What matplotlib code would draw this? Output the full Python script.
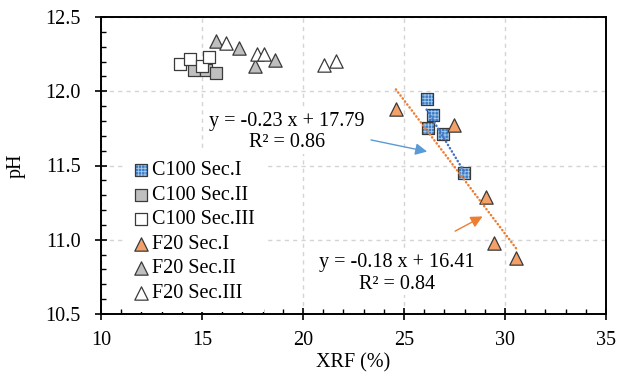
import numpy as np
import matplotlib
matplotlib.use('Agg')
import matplotlib.pyplot as plt
from matplotlib.legend_handler import HandlerTuple
from matplotlib.ticker import MultipleLocator, FormatStrFormatter

# data
c100_1_x = [26.12, 26.44, 26.17, 26.93, 27.97]
c100_1_y = [11.95, 11.84, 11.75, 11.71, 11.45]
c100_2_x = [14.60, 15.20, 15.69]
c100_2_y = [12.14, 12.145, 12.125]
c100_3_x = [13.92, 14.40, 15.00, 15.34]
c100_3_y = [12.185, 12.22, 12.17, 12.23]
f20_1_x = [24.60, 27.46, 29.07, 29.45, 30.55]
f20_1_y = [11.88, 11.77, 11.29, 10.98, 10.88]
f20_2_x = [15.69, 16.85, 18.60, 17.62]
f20_2_y = [12.34, 12.29, 12.21, 12.17]
f20_3_x = [16.17, 17.70, 18.07, 21.03, 21.64]
f20_3_y = [12.325, 12.253, 12.25, 12.174, 12.204]

labels = ['C100 Sec.I', 'C100 Sec.II', 'C100 Sec.III',
          'F20 Sec.I', 'F20 Sec.II', 'F20 Sec.III']
eq_c100 = 'y = -0.23 x + 17.79\nR\u00b2 = 0.86'
eq_f20 = 'y = -0.18 x + 16.41\nR\u00b2 = 0.84'

plt.rcParams.update({
    'font.family': ['Liberation Serif', 'DejaVu Serif'],
    'font.size': 14.5,
    'hatch.linewidth': 0.6,
    'axes.linewidth': 1.4,
})

fig = plt.figure(figsize=(6.44, 3.82), dpi=100)
ax = fig.add_axes([101 / 644, 1 - 314 / 382, 505 / 644, 297 / 382])

edge = '#3a3a3a'
ms_sq = 76
ms_tri = 92

# C100 Sec.I : blue with light grid pattern
sc1a = ax.scatter(c100_1_x, c100_1_y, marker='s', s=ms_sq, facecolor='#3b7dc4',
                  edgecolor='#a9cbee', linewidth=0, hatch='+++++', zorder=3)
sc1b = ax.scatter(c100_1_x, c100_1_y, marker='s', s=ms_sq, facecolor='none',
                  edgecolor=edge, linewidth=0.9, zorder=3)
sc2 = ax.scatter(c100_2_x, c100_2_y, marker='s', s=ms_sq, facecolor='#bfbfbf',
                 edgecolor=edge, linewidth=0.9, zorder=3)
sc3 = ax.scatter(c100_3_x, c100_3_y, marker='s', s=ms_sq, facecolor='white',
                 edgecolor=edge, linewidth=0.9, zorder=3)
sc4 = ax.scatter(f20_1_x, f20_1_y, marker='^', s=ms_tri, facecolor='#f4a069',
                 edgecolor=edge, linewidth=0.9, zorder=3)
sc5 = ax.scatter(f20_2_x, f20_2_y, marker='^', s=ms_tri, facecolor='#bfbfbf',
                 edgecolor=edge, linewidth=0.9, zorder=3)
sc6 = ax.scatter(f20_3_x, f20_3_y, marker='^', s=ms_tri, facecolor='white',
                 edgecolor=edge, linewidth=0.9, zorder=3)

# linear trendlines
for xs, ys, col in [(c100_1_x, c100_1_y, '#4472c4'), (f20_1_x, f20_1_y, '#ed7d31')]:
    k, b = np.polyfit(xs, ys, 1)
    xx = np.array([min(xs), max(xs)])
    ax.plot(xx, k * xx + b, color=col, lw=1.8, linestyle=(0, (0.1, 1.4)),
            dash_capstyle='round', zorder=4)

# equation labels with arrows
box = dict(facecolor='white', edgecolor='none', pad=1)
ax.text(19.2, 11.725, eq_c100, ha='center', va='center', multialignment='center',
        bbox=box, zorder=2)
ax.text(24.65, 10.775, eq_f20, ha='center', va='center', multialignment='center',
        bbox=box, zorder=2)
ax.annotate('', xy=(26.28, 11.59), xytext=(23.23, 11.676),
            arrowprops=dict(arrowstyle='-|>,head_length=0.5,head_width=0.25',
                            color='#5b9bd5', lw=1, mutation_scale=14),
            zorder=5)
ax.annotate('', xy=(29.01, 11.166), xytext=(27.41, 11.049),
            arrowprops=dict(arrowstyle='-|>,head_length=0.5,head_width=0.25',
                            color='#ed7d31', lw=1, mutation_scale=14),
            zorder=5)

ax.set_xlim(10, 35)
ax.set_ylim(10.5, 12.5)
ax.xaxis.set_major_locator(MultipleLocator(5))
ax.xaxis.set_minor_locator(MultipleLocator(1))
ax.yaxis.set_major_locator(MultipleLocator(0.5))
ax.yaxis.set_minor_locator(MultipleLocator(0.1))
ax.yaxis.set_major_formatter(FormatStrFormatter('%.1f'))
ax.tick_params(which='major', direction='inout', length=9, width=1.2)
ax.tick_params(axis='x', which='major', pad=8)
ax.tick_params(axis='y', which='major', pad=10)
ax.tick_params(which='minor', direction='in', length=3.6, width=1.0)
for sp in ax.spines.values():
    sp.set_color('black')

ax.grid(True, which='major', color='#d4d4d4', linestyle=(0, (3, 3)), lw=1)
ax.set_axisbelow(True)

ax.set_xlabel('XRF (%)')
ax.set_ylabel('pH')
ax.xaxis.set_label_coords(0.5, -0.132)
ax.yaxis.set_label_coords(-0.15, 0.5)

leg = ax.legend([(sc1a, sc1b), sc2, sc3, sc4, sc5, sc6], labels,
                handler_map={tuple: HandlerTuple(ndivide=1)},
                loc='upper left', bbox_to_anchor=(0.05, 0.545), borderaxespad=0,
                borderpad=0.45, handlelength=0.6, handletextpad=0.25,
                labelspacing=0.27, scatterpoints=1, frameon=True, fancybox=False)
leg.get_frame().set_facecolor('white')
leg.get_frame().set_edgecolor('none')
leg.get_frame().set_alpha(1)
leg.set_zorder(2)

fig.savefig('out.png', dpi=100)
